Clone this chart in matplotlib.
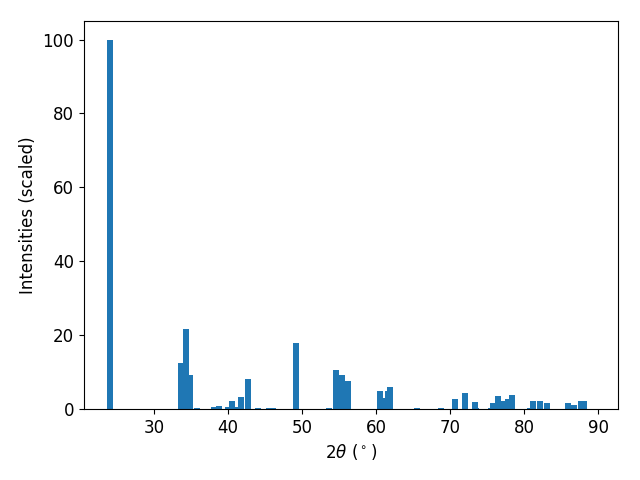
import matplotlib
matplotlib.use('Agg')
import matplotlib.pyplot as plt

# 2theta positions (deg) and scaled intensities
two_theta = [24.0, 33.6, 34.28, 34.82, 35.77, 38.06, 38.74, 39.96, 40.5, 40.9,
             41.72, 42.66, 44.0, 45.5, 46.05, 49.15, 53.6, 54.55, 55.4, 56.2,
             60.5, 61.31, 61.58, 61.85, 65.5, 68.74, 70.64, 71.99, 73.3, 73.5,
             75.5, 75.8, 76.45, 77.2, 77.75, 78.3, 80.8, 81.2, 82.1, 83.05,
             85.9, 86.75, 87.6, 88.1]
intensities = [100.0, 12.5, 21.7, 9.2, 0.3, 0.5, 0.8, 0.5, 2.2, 0.4,
               3.25, 8.1, 0.3, 0.3, 0.3, 17.9, 0.3, 10.6, 9.2, 7.6,
               4.9, 3.0, 4.9, 6.0, 0.3, 0.3, 2.7, 4.3, 1.9, 0.3,
               0.3, 1.6, 3.5, 2.2, 2.7, 3.8, 0.3, 2.2, 2.2, 1.6,
               1.6, 1.1, 2.2, 2.2]

plt.rcParams['font.size'] = 12

fig, ax = plt.subplots(figsize=(6.4, 4.8), dpi=100)
ax.bar(two_theta, intensities, width=0.8, color='#1f77b4')
ax.set_xlim(20.5, 92.7)
ax.set_xlabel(r'2$\theta$ ($^\circ$)')
ax.set_ylabel('Intensities (scaled)')
fig.subplots_adjust(left=0.131, right=0.966, top=0.956, bottom=0.148)
plt.savefig('out.png')
